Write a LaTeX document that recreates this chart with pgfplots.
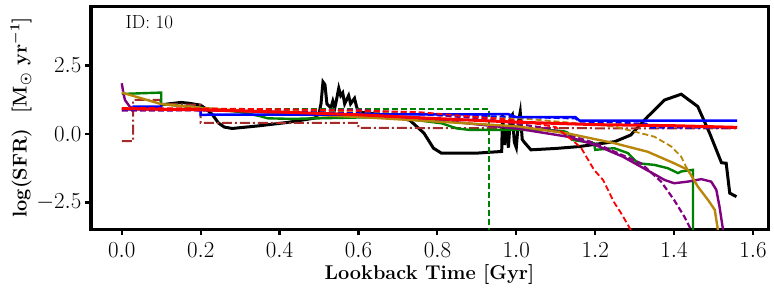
\RequirePackage{fix-cm}
\documentclass[border=0pt]{standalone}
\usepackage{pgfplots}
\pgfplotsset{compat=1.18}
\usepackage{amsmath}
\definecolor{mgreen}{RGB}{0,128,0}
\definecolor{mpurple}{RGB}{128,0,128}
\definecolor{mgold}{RGB}{184,134,11}
\definecolor{mbrown}{RGB}{165,42,42}
\begin{document}
\begin{tikzpicture}
\useasboundingbox (0,0) rectangle (774bp,290bp);
\begin{axis}[
  at={(91bp,61bp)}, anchor=south west,
  scale only axis, width=677bp, height=223bp,
  xmin=-0.078, xmax=1.638, ymin=-3.47, ymax=4.67,
  axis line style={line width=3bp},
  tick align=outside, tick pos=left,
  major tick length=6bp,
  every tick/.style={line width=2.2bp, black},
  xtick={0,0.2,0.4,0.6,0.8,1.0,1.2,1.4,1.6},
  ytick={-2.5,0,2.5},
  xticklabel style={anchor=base, yshift=-22bp, /pgf/number format/.cd, fixed, fixed zerofill, precision=1},
  yticklabel style={/pgf/number format/.cd, fixed, fixed zerofill, precision=1},
  tick label style={font=\fontsize{23}{27}\selectfont},
  xlabel={\textbf{Lookback Time [Gyr]}},
  ylabel={\textbf{\boldmath log(SFR)\ \ [M$_\odot$ yr$^{-1}$]}},
  label style={font=\fontsize{20}{24}\selectfont},
  xlabel style={at={(axis description cs:0.5,0)}, anchor=base, yshift=-50bp},
  ylabel style={yshift=-2bp},
  clip=true,
]
% black
\addplot[black, line width=3bp] coordinates {
(0.097,1.05)(0.12,1.1)(0.15,1.15)(0.17,1.12)(0.2,1.05)(0.215,0.9)(0.23,0.7)(0.245,0.4)(0.26,0.25)(0.28,0.2)(0.35,0.3)(0.42,0.42)(0.49,0.58)(0.5,0.75)(0.505,1.1)(0.51,1.9)(0.515,1.8)(0.52,1.1)(0.53,0.95)(0.535,1.2)(0.54,0.95)(0.545,1.3)(0.55,1.67)(0.555,1.4)(0.56,1.5)(0.565,1.1)(0.57,1.25)(0.575,1.4)(0.58,1.1)(0.585,1.2)(0.59,1.3)(0.595,1.0)(0.6,0.8)(0.65,0.72)(0.7,0.6)(0.73,0.5)(0.766,0.03)(0.79,-0.52)(0.81,-0.7)(0.9,-0.7)(0.963,-0.64)(0.965,0.7)(0.97,-0.4)(0.975,0.3)(0.98,-0.5)(0.985,0.6)(0.99,0.7)(0.995,-0.3)(1.0,-0.5)(1.005,0.4)(1.01,0.8)(1.015,-0.2)(1.02,-0.3)(1.037,-0.58)(1.1,-0.53)(1.16,-0.46)(1.25,-0.28)(1.29,-0.04)(1.333,0.63)(1.376,1.24)(1.418,1.45)(1.46,1.0)(1.49,0.03)(1.52,-1.05)(1.532,-1.07)(1.541,-2.16)(1.558,-2.29)};
% brown dash-dot
\addplot[mbrown, line width=2bp, dash pattern=on 10bp off 3bp on 2bp off 3bp] coordinates {
(0,-0.26)(0.029,-0.26)(0.029,1.24)(0.097,1.24)(0.1,1.1)(0.2,1.06)(0.2,0.4)(0.6,0.4)(0.6,0.22)(1.56,0.2)};
% green dashed
\addplot[mgreen, line width=1.8bp, dash pattern=on 6bp off 3bp] coordinates {
(0,0.9)(0.3,0.9)(0.6,0.9)(0.93,0.9)(0.93,-4)};
% green solid
\addplot[mgreen, line width=2.4bp] coordinates {
(0,1.46)(0.1,1.51)(0.1,1.09)(0.2,0.95)(0.3,0.8)(0.35,0.65)(0.37,0.57)(0.43,0.55)(0.5,0.57)(0.6,0.6)(0.68,0.61)(0.75,0.5)(0.81,0.39)(0.85,0.2)(0.88,0.15)(1.07,0.15)(1.12,0.1)(1.13,0.05)(1.143,-0.22)(1.197,-0.34)(1.2,-0.58)(1.248,-0.52)(1.283,-0.7)(1.308,-1.07)(1.35,-1.13)(1.384,-1.25)(1.41,-1.43)(1.418,-1.37)(1.448,-1.31)(1.448,-4)};
% purple solid
\addplot[mpurple, line width=2.4bp] coordinates {
(0,1.85)(0.004,1.5)(0.008,1.24)(0.02,1.0)(0.033,0.9)(0.2,0.88)(0.4,0.8)(0.6,0.68)(0.8,0.5)(1.0,0.2)(1.13,-0.1)(1.2,-0.4)(1.27,-0.83)(1.33,-1.31)(1.376,-1.68)(1.40,-1.8)(1.435,-1.74)(1.469,-1.65)(1.494,-1.74)(1.507,-2.04)(1.515,-2.65)(1.524,-3.5)(1.53,-4)};
% purple dashed
\addplot[mpurple, line width=2.2bp, dash pattern=on 6bp off 3bp] coordinates {
(0,0.85)(0.3,0.87)(0.6,0.88)(0.68,0.8)(0.91,0.57)(1.08,0.2)(1.2,-0.34)(1.316,-1.07)(1.367,-1.74)(1.40,-2.41)(1.426,-3.02)(1.443,-3.5)(1.45,-4)};
% gold solid
\addplot[mgold, line width=2.4bp] coordinates {
(0,1.51)(0.1,1.09)(0.2,0.95)(0.4,0.75)(0.6,0.62)(0.8,0.45)(1.0,0.28)(1.13,0.02)(1.249,-0.34)(1.333,-0.65)(1.40,-1.07)(1.435,-1.31)(1.46,-1.92)(1.486,-2.41)(1.503,-2.77)(1.511,-3.5)(1.515,-4)};
% gold dashed
\addplot[mgold, line width=1.8bp, dash pattern=on 6bp off 3bp] coordinates {
(0,0.9)(0.4,0.85)(0.8,0.72)(1.01,0.57)(1.249,0.27)(1.35,-0.1)(1.393,-0.46)(1.418,-0.83)(1.43,-1.19)(1.44,-1.45)};
% blue solid
\addplot[blue, line width=2.5bp] coordinates {
(0,0.9)(0.03,0.9)(0.03,1.0)(0.1,1.0)(0.1,0.9)(0.2,0.9)(0.2,0.7)(0.98,0.72)(1.0,0.61)(1.15,0.61)(1.16,0.49)(1.56,0.49)};
% blue dashed
\addplot[blue, line width=1.8bp, dash pattern=on 6bp off 3bp] coordinates {
(0,0.88)(0.2,0.86)(0.4,0.82)(0.6,0.76)(0.8,0.7)(1.0,0.62)(1.15,0.56)(1.16,0.45)(1.33,0.38)(1.34,0.23)(1.56,0.22)};
% red dashed
\addplot[red, line width=1.8bp, dash pattern=on 6bp off 3bp] coordinates {
(0,0.95)(0.2,0.93)(0.4,0.9)(0.6,0.85)(0.75,0.8)(0.9,0.62)(1.0,0.5)(1.1,0.25)(1.146,-0.28)(1.164,-0.5)(1.197,-1.31)(1.22,-1.68)(1.248,-2.5)(1.266,-2.9)(1.29,-3.5)(1.3,-3.8)};
% red solid
\addplot[red, line width=3bp] coordinates {
(0,0.92)(0.2,0.88)(0.4,0.8)(0.6,0.7)(0.8,0.56)(1.0,0.43)(1.2,0.34)(1.4,0.3)(1.56,0.24)};
\node[anchor=base west, font=\fontsize{19}{22}\selectfont] at (axis description cs:0.046,0.90) {ID: 10};
\end{axis}
\end{tikzpicture}
\end{document}
